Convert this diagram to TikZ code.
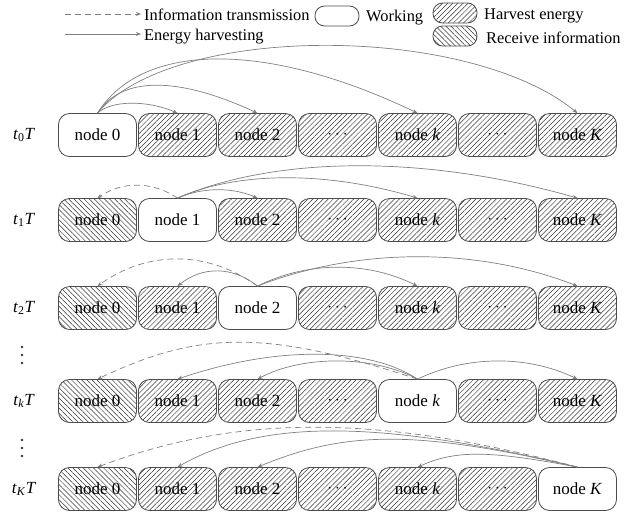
\documentclass[tikz,border=0pt]{standalone}
\usepackage{fontspec}
\setmainfont{Liberation Serif}
\usetikzlibrary{arrows.meta,patterns.meta}

\tikzset{
  txt/.style={font=\fontsize{17}{17}\selectfont, inner sep=0pt},
  legtxt/.style={font=\fontsize{16.4}{16.4}\selectfont, inner sep=0pt, anchor=base west},
  box/.style={draw=black!70, line width=0.8pt, rounded corners=11pt,
    minimum width=78pt, minimum height=43pt, inner sep=0pt, txt},
  work/.style={box, fill=white},
  harv/.style={box, pattern={Lines[angle=45,distance=3.6pt,line width=0.5pt]},
    pattern color=black!80},
  recv/.style={box, pattern={Lines[angle=-45,distance=3.6pt,line width=0.5pt]},
    pattern color=black!80},
  pill/.style={draw=black!70, line width=0.8pt, rounded corners=9.5pt,
    minimum width=44pt, minimum height=20pt, inner sep=0pt},
  energy/.style={draw=black!50, line width=0.7pt, -{Stealth[length=5pt,width=4pt]}},
  info/.style={energy, dash pattern=on 6pt off 4pt},
  rowlab/.style={txt},
  vdot/.style={fill=black!80, draw=none},
}

\begin{document}
\begin{tikzpicture}[x=1pt, y=-1pt]
\useasboundingbox (0,0) rectangle (642,512);

% ---------- legend ----------
\coordinate (ia) at (65,14);
\coordinate (ib) at (141,14);
\draw[info] (ia) -- (ib);
\node[legtxt] (it) at (144,20) {Information transmission};
\coordinate (ea) at (65,34);
\coordinate (eb) at (141,34);
\draw[energy] (ea) -- (eb);
\node[legtxt] (et) at (144,40) {Energy harvesting};

\node[pill, fill=white] (wk) at (337,16) {};
\node[legtxt] (wt) at (366,21) {Working};

\node[pill, pattern={Lines[angle=45,distance=3.6pt,line width=0.5pt]},
  pattern color=black!80] (hv) at (455,13) {};
\node[legtxt] (ht) at (484,19) {Harvest energy};
\node[pill, pattern={Lines[angle=-45,distance=3.6pt,line width=0.5pt]},
  pattern color=black!80] (rv) at (455,36) {};
\node[legtxt] (rt) at (486,43) {Receive information};

% ---------- node rows: name / centre y / working column ----------
\foreach \r/\y/\w in {a/135/0, b/220/1, c/308/2, d/401/4, e/489/6} {
  \foreach \c/\lab in {0/{node 0}, 1/{node 1}, 2/{node 2}, 3/{$\cdots$},
                       4/{node \textit{k}}, 5/{$\cdots$}, 6/{node \textit{K}}} {
    \ifnum\c=\w \def\st{work}\else\ifnum\c=0 \def\st{recv}\else\def\st{harv}\fi\fi
    \node[\st] (\r\c) at ({97.5+80*\c},\y) {\lab};
  }
}

% ---------- row labels ----------
\node[rowlab] (ta) at (24,135) {\textit{t}\textsubscript{0}\textit{T}};
\node[rowlab] (tb) at (24,220) {\textit{t}\textsubscript{1}\textit{T}};
\node[rowlab] (tc) at (24,308) {\textit{t}\textsubscript{2}\textit{T}};
\node[rowlab] (td) at (24,401) {\textit{t}\textsubscript{\textit{k}}\textit{T}};
\node[rowlab] (te) at (24,489) {\textit{t}\textsubscript{\textit{K}}\textit{T}};

% vertical ellipses between rows
\foreach \yy in {347,355,363,440,448,456} \fill[vdot] (22,\yy) circle (1.3);

% ---------- row t0: node 0 works ----------
\draw[energy] (a0.north) .. controls +(14,-13) and +(-30,-13) .. (a1.north);
\draw[energy] (a0.north) .. controls +(24,-37) and +(-80,-37) .. (a2.north);
\draw[energy] (a0.north) .. controls +(45,-72) and +(-150,-72) .. (a4.north);
\draw[energy] (a0.north) .. controls +(75,-90) and +(-110,-90) .. (a6.north);

% ---------- row t1: node 1 works ----------
\draw[info]   (b1.north) .. controls +(-25,-17) and +(25,-17) .. (b0.north);
\draw[energy] (b1.north) .. controls +(25,-11) and +(-25,-11) .. (b2.north);
\draw[energy] (b1.north) .. controls +(60,-27) and +(-90,-27) .. (b4.north);
\draw[energy] (b1.north) .. controls +(100,-43) and +(-150,-43) .. (b6.north);

% ---------- row t2: node 2 works ----------
\draw[info]   (c2.north) .. controls +(-50,-36) and +(50,-36) .. (c0.north);
\draw[energy] (c2.north) .. controls +(-25,-20) and +(25,-20) .. (c1.north);
\draw[energy] (c2.north) .. controls +(50,-25) and +(-50,-25) .. (c4.north);
\draw[energy] (c2.north) .. controls +(100,-39) and +(-100,-39) .. (c6.north);

% ---------- row tk: node k works ----------
\draw[info]   (d4.north) .. controls +(-150,-49) and +(103,-49) .. (d0.north);
\draw[energy] (d4.north) .. controls +(-50,-33) and +(97,-33) .. (d1.north);
\draw[energy] (d4.north) .. controls +(-45,-24) and +(45,-24) .. (d2.north);
\draw[energy] (d4.north) .. controls +(50,-24) and +(-50,-24) .. (d6.north);

% ---------- row tK: node K works ----------
\draw[info]   (e6.north) .. controls +(-200,-53) and +(140,-53) .. (e0.north);
\draw[energy] (e6.north) .. controls +(-200,-48) and +(84,-48) .. (e1.north);
\draw[energy] (e6.north) .. controls +(-160,-37) and +(89,-37) .. (e2.north);
\draw[energy] (e6.north) .. controls +(-90,-17) and +(38,-17) .. (e4.north);
\end{tikzpicture}
\end{document}
